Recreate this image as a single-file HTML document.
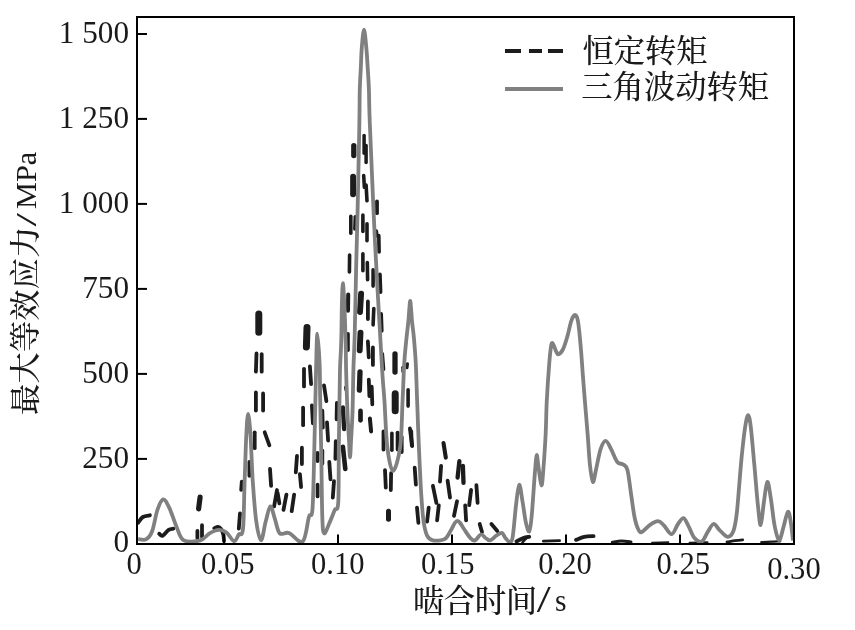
<!DOCTYPE html>
<html lang="zh"><head><meta charset="utf-8"><title>最大等效应力</title>
<style>html,body{margin:0;padding:0;background:#fff}svg{display:block}</style></head>
<body>
<svg width="855" height="630" viewBox="0 0 855 630">
<rect width="855" height="630" fill="#fff"/>
<g stroke="#1c1c1c" fill="none" stroke-linecap="round" stroke-linejoin="round">
<line x1="200.1" y1="497.2" x2="198.6" y2="508.8" stroke-width="5.2"/>
<line x1="197.4" y1="531.0" x2="197.4" y2="538.0" stroke-width="3.8"/>
<line x1="202.0" y1="525.2" x2="202.0" y2="536.8" stroke-width="3.8"/>
<line x1="240.0" y1="513.5" x2="238.8" y2="528.6" stroke-width="3.8"/>
<line x1="241.8" y1="481.7" x2="241.2" y2="489.8" stroke-width="3.8"/>
<line x1="249.4" y1="461.8" x2="249.4" y2="475.8" stroke-width="3.8"/>
<line x1="254.7" y1="432.3" x2="254.7" y2="448.2" stroke-width="3.8"/>
<line x1="255.9" y1="392.4" x2="255.9" y2="410.5" stroke-width="3.8"/>
<line x1="263.1" y1="393.5" x2="263.1" y2="410.5" stroke-width="3.8"/>
<line x1="256.5" y1="353.5" x2="255.9" y2="371.7" stroke-width="3.8"/>
<line x1="261.7" y1="354.1" x2="261.7" y2="371.7" stroke-width="3.8"/>
<line x1="258.8" y1="314.1" x2="258.8" y2="332.3" stroke-width="7.0"/>
<line x1="264.7" y1="432.3" x2="269.4" y2="445.3" stroke-width="3.8"/>
<line x1="270.0" y1="468.8" x2="271.1" y2="485.8" stroke-width="3.8"/>
<line x1="277.0" y1="490.0" x2="274.1" y2="506.4" stroke-width="3.8"/>
<line x1="277.6" y1="492.9" x2="279.4" y2="503.4" stroke-width="3.8"/>
<line x1="286.4" y1="494.7" x2="283.5" y2="509.9" stroke-width="3.8"/>
<line x1="294.1" y1="494.7" x2="291.7" y2="511.1" stroke-width="3.8"/>
<line x1="297.0" y1="455.9" x2="295.8" y2="472.3" stroke-width="3.8"/>
<line x1="299.9" y1="474.1" x2="301.1" y2="487.0" stroke-width="3.8"/>
<line x1="301.9" y1="447.7" x2="301.9" y2="464.1" stroke-width="3.8"/>
<line x1="303.1" y1="407.6" x2="303.1" y2="425.2" stroke-width="3.8"/>
<line x1="304.0" y1="368.8" x2="304.0" y2="386.4" stroke-width="3.8"/>
<line x1="309.9" y1="366.4" x2="311.1" y2="384.1" stroke-width="3.8"/>
<line x1="307.0" y1="327.6" x2="306.4" y2="347.0" stroke-width="7.0"/>
<line x1="311.9" y1="405.3" x2="312.9" y2="423.4" stroke-width="3.8"/>
<line x1="322.3" y1="410.6" x2="322.8" y2="427.6" stroke-width="3.8"/>
<line x1="327.0" y1="422.3" x2="328.1" y2="440.5" stroke-width="3.8"/>
<line x1="324.0" y1="385.3" x2="326.4" y2="401.1" stroke-width="3.8"/>
<line x1="317.6" y1="484.7" x2="317.6" y2="496.4" stroke-width="3.8"/>
<line x1="317.6" y1="453.0" x2="317.6" y2="461.1" stroke-width="3.8"/>
<line x1="322.3" y1="450.6" x2="322.3" y2="463.5" stroke-width="3.8"/>
<line x1="329.3" y1="461.8" x2="330.5" y2="479.3" stroke-width="3.8"/>
<line x1="334.0" y1="481.2" x2="332.8" y2="497.6" stroke-width="3.8"/>
<line x1="335.8" y1="441.2" x2="335.4" y2="458.8" stroke-width="3.8"/>
<line x1="336.9" y1="402.9" x2="336.6" y2="419.3" stroke-width="3.8"/>
<line x1="342.9" y1="407.4" x2="344.1" y2="429.1" stroke-width="4.3"/>
<line x1="342.9" y1="446.7" x2="345.3" y2="469.0" stroke-width="4.6"/>
<line x1="353.8" y1="145.6" x2="353.8" y2="155.5" stroke-width="5.3"/>
<line x1="353.1" y1="176.7" x2="353.1" y2="194.3" stroke-width="5.9"/>
<line x1="350.8" y1="216.2" x2="350.8" y2="233.2" stroke-width="3.6"/>
<line x1="355.2" y1="216.8" x2="354.8" y2="229.1" stroke-width="3.4"/>
<line x1="349.6" y1="255.0" x2="349.4" y2="272.0" stroke-width="3.6"/>
<line x1="348.2" y1="294.4" x2="348.0" y2="310.8" stroke-width="4.0"/>
<line x1="348.0" y1="333.8" x2="348.0" y2="350.3" stroke-width="3.6"/>
<line x1="345.8" y1="387.5" x2="346.3" y2="389.8" stroke-width="3.8"/>
<line x1="364.1" y1="135.6" x2="364.1" y2="153.2" stroke-width="3.5"/>
<line x1="366.1" y1="145.6" x2="366.1" y2="162.6" stroke-width="3.5"/>
<line x1="363.7" y1="175.6" x2="364.4" y2="187.3" stroke-width="3.6"/>
<line x1="366.1" y1="185.0" x2="367.0" y2="200.8" stroke-width="3.6"/>
<line x1="362.9" y1="215.0" x2="362.9" y2="231.4" stroke-width="3.6"/>
<line x1="367.0" y1="223.8" x2="367.0" y2="240.8" stroke-width="3.6"/>
<line x1="362.9" y1="253.8" x2="362.9" y2="270.8" stroke-width="3.6"/>
<line x1="367.3" y1="262.6" x2="367.6" y2="279.8" stroke-width="3.6"/>
<line x1="361.1" y1="293.8" x2="360.0" y2="312.0" stroke-width="5.9"/>
<line x1="367.9" y1="301.5" x2="367.9" y2="319.0" stroke-width="3.8"/>
<line x1="360.5" y1="332.6" x2="359.7" y2="350.3" stroke-width="5.9"/>
<line x1="367.9" y1="341.5" x2="368.8" y2="357.3" stroke-width="3.8"/>
<line x1="372.9" y1="347.4" x2="372.9" y2="364.9" stroke-width="3.8"/>
<line x1="360.0" y1="372.0" x2="359.4" y2="390.2" stroke-width="5.3"/>
<line x1="368.8" y1="379.7" x2="369.4" y2="396.1" stroke-width="3.8"/>
<line x1="371.7" y1="386.7" x2="372.3" y2="404.3" stroke-width="3.8"/>
<line x1="360.5" y1="410.9" x2="360.5" y2="420.3" stroke-width="4.7"/>
<line x1="369.9" y1="418.5" x2="371.1" y2="431.4" stroke-width="4.0"/>
<line x1="377.0" y1="201.5" x2="377.0" y2="213.2" stroke-width="3.8"/>
<line x1="376.4" y1="230.9" x2="377.0" y2="236.1" stroke-width="3.4"/>
<line x1="378.8" y1="235.6" x2="379.1" y2="252.0" stroke-width="3.6"/>
<line x1="373.1" y1="269.7" x2="373.1" y2="286.1" stroke-width="3.6"/>
<line x1="379.9" y1="274.4" x2="380.5" y2="292.0" stroke-width="3.8"/>
<line x1="373.8" y1="308.5" x2="373.1" y2="324.9" stroke-width="3.6"/>
<line x1="381.1" y1="313.8" x2="381.7" y2="330.8" stroke-width="3.8"/>
<line x1="382.3" y1="353.8" x2="383.5" y2="369.1" stroke-width="3.6"/>
<line x1="395.0" y1="353.8" x2="395.0" y2="372.0" stroke-width="5.3"/>
<line x1="395.2" y1="393.8" x2="395.2" y2="410.8" stroke-width="7.0"/>
<line x1="388.5" y1="511.2" x2="388.5" y2="519.3" stroke-width="5.0"/>
<line x1="407.5" y1="363.8" x2="407.0" y2="367.8" stroke-width="3.0"/>
<line x1="402.8" y1="367.3" x2="402.8" y2="371.4" stroke-width="3.0"/>
<line x1="408.1" y1="389.7" x2="408.1" y2="406.1" stroke-width="3.6"/>
<line x1="383.5" y1="431.5" x2="383.5" y2="449.6" stroke-width="3.8"/>
<line x1="391.9" y1="433.2" x2="391.9" y2="450.2" stroke-width="3.6"/>
<line x1="397.6" y1="432.6" x2="397.6" y2="449.6" stroke-width="3.8"/>
<line x1="401.7" y1="436.8" x2="401.7" y2="452.0" stroke-width="3.8"/>
<line x1="409.9" y1="428.5" x2="412.2" y2="446.1" stroke-width="3.8"/>
<line x1="385.0" y1="470.2" x2="385.8" y2="487.7" stroke-width="3.8"/>
<line x1="391.1" y1="473.2" x2="390.8" y2="490.0" stroke-width="3.8"/>
<line x1="414.7" y1="467.6" x2="415.9" y2="484.6" stroke-width="3.8"/>
<line x1="411.2" y1="431.2" x2="411.8" y2="445.3" stroke-width="3.8"/>
<line x1="417.0" y1="507.6" x2="418.4" y2="522.8" stroke-width="3.8"/>
<line x1="428.7" y1="507.6" x2="427.1" y2="521.6" stroke-width="3.8"/>
<line x1="432.9" y1="485.8" x2="436.4" y2="502.8" stroke-width="3.8"/>
<line x1="438.8" y1="505.3" x2="437.1" y2="520.4" stroke-width="3.8"/>
<line x1="441.1" y1="465.9" x2="440.0" y2="481.7" stroke-width="3.8"/>
<line x1="443.5" y1="443.0" x2="445.8" y2="457.6" stroke-width="4.1"/>
<line x1="447.6" y1="480.6" x2="450.0" y2="497.5" stroke-width="3.8"/>
<line x1="457.0" y1="501.3" x2="454.0" y2="515.8" stroke-width="3.8"/>
<line x1="459.4" y1="461.2" x2="457.6" y2="477.6" stroke-width="4.3"/>
<line x1="462.9" y1="465.9" x2="463.5" y2="482.8" stroke-width="4.3"/>
<line x1="465.2" y1="505.3" x2="466.1" y2="520.4" stroke-width="3.8"/>
<line x1="471.1" y1="490.0" x2="469.2" y2="505.2" stroke-width="3.8"/>
<line x1="476.4" y1="485.2" x2="477.6" y2="502.8" stroke-width="3.8"/>
<line x1="479.7" y1="524.0" x2="482.0" y2="532.1" stroke-width="3.8"/>
<line x1="491.4" y1="524.0" x2="497.3" y2="531.0" stroke-width="3.8"/>
<path d="M138.2 522.8C139.0 521.8 140.9 518.2 142.9 517.0C144.9 515.8 148.7 515.6 149.9 515.3" stroke-width="3.8"/>
<path d="M159.2 533.8C159.8 534.1 161.1 536.4 162.7 535.7C164.3 535.0 166.8 531.0 168.6 529.8C170.4 528.6 172.5 528.9 173.3 528.7" stroke-width="3.8"/>
<path d="M214.2 528.2C214.8 528.0 216.9 526.9 218.0 527.0C219.1 527.1 220.1 527.8 221.0 529.0C221.9 530.2 222.8 532.5 223.3 534.5C223.8 536.5 223.9 539.9 224.0 541.0" stroke-width="3.8"/>
<path d="M516.4 541.5C517.6 540.9 521.3 538.8 523.4 538.0C525.5 537.2 528.2 537.0 529.2 536.8" stroke-width="3.8"/>
<path d="M527.5 537.5C527.0 537.9 525.3 539.2 524.5 540.0C523.7 540.8 522.8 542.1 522.5 542.5" stroke-width="2.6"/>
<path d="M543.3 541.2C546.0 541.1 556.9 540.8 559.6 540.7" stroke-width="2.8"/>
<path d="M576.0 539.9C577.4 539.4 581.3 537.4 584.2 536.8C587.1 536.2 592.0 536.2 593.6 536.1" stroke-width="3.8"/>
<path d="M612.3 542.3C613.8 542.1 618.5 541.0 621.6 541.0C624.7 541.0 629.4 541.8 631.0 542.0" stroke-width="3.0"/>
<path d="M652.0 542.6C654.7 542.5 665.7 542.3 668.4 542.2" stroke-width="1.8"/>
<path d="M689.5 542.6C692.5 542.5 704.6 542.3 707.6 542.2" stroke-width="1.8"/>
<path d="M727.0 542.0C728.3 541.8 732.4 541.0 735.0 540.6C737.6 540.2 741.4 539.9 742.7 539.8" stroke-width="2.8"/>
<path d="M761.4 542.3C763.2 542.2 768.9 541.8 772.0 541.6C775.1 541.4 778.8 541.3 780.1 541.2" stroke-width="2.4"/>
</g>
<path d="M138.2 539.2C139.6 539.2 144.1 540.6 146.4 539.2C148.7 537.8 150.4 535.9 152.2 531.0C154.0 526.1 155.6 515.3 157.4 510.0C159.2 504.7 161.2 499.8 163.2 499.4C165.2 499.0 166.9 502.9 169.2 507.6C171.5 512.3 174.4 522.0 176.8 527.5C179.2 533.0 179.9 538.2 183.8 540.4C187.7 542.5 195.9 541.6 200.2 540.4C204.5 539.2 206.4 535.1 209.5 533.3C212.6 531.5 216.1 529.9 218.9 529.8C221.7 529.7 224.0 530.6 226.5 532.5C229.0 534.4 231.9 540.9 234.0 541.2C236.1 541.5 237.3 536.5 238.8 534.5C240.3 532.5 242.0 537.8 243.0 529.0C244.0 520.2 244.0 497.6 244.6 481.9C245.2 466.2 245.7 446.3 246.3 435.0C246.9 423.7 247.4 414.0 248.1 414.0C248.8 414.0 249.7 423.7 250.5 435.0C251.3 446.3 251.8 467.5 252.8 481.9C253.8 496.3 254.9 511.9 256.3 521.6C257.7 531.4 259.4 540.4 261.0 540.4C262.6 540.4 264.1 527.3 265.7 521.6C267.3 515.9 268.8 506.8 270.4 506.4C271.9 506.0 273.4 514.8 275.0 519.3C276.6 523.8 277.4 531.0 279.7 533.3C282.0 535.6 285.2 531.6 289.0 533.0C292.8 534.4 299.4 544.2 302.7 541.5C306.0 538.8 307.3 522.5 308.9 517.0C310.5 511.6 311.6 520.0 312.5 508.8C313.4 497.6 313.8 468.1 314.3 450.0C314.8 431.9 315.1 414.3 315.4 400.0C315.7 385.7 315.9 375.1 316.2 364.0C316.5 352.9 316.8 333.7 317.4 333.7C318.0 333.7 319.1 352.9 319.6 364.0C320.1 375.1 319.9 385.7 320.2 400.0C320.5 414.3 320.8 430.5 321.2 450.0C321.6 469.5 321.8 503.1 322.3 517.0C322.8 530.9 322.9 532.5 324.2 533.3C325.5 534.1 328.2 525.5 330.0 521.6C331.8 517.7 333.3 513.1 334.7 510.0C336.1 506.9 337.5 513.0 338.2 503.0C338.9 493.0 338.6 467.2 338.8 450.0C339.0 432.8 339.3 413.3 339.5 400.0C339.7 386.7 339.8 378.7 340.0 370.0C340.2 361.3 340.8 353.8 341.0 348.0C341.2 342.2 341.3 339.5 341.4 335.0C341.5 330.5 341.5 326.8 341.6 321.0C341.7 315.2 341.8 306.3 342.0 300.0C342.2 293.7 342.5 283.2 342.9 283.2C343.2 283.2 343.8 293.7 344.1 300.0C344.5 306.3 344.8 315.2 345.0 321.0C345.2 326.8 345.3 330.5 345.4 335.0C345.5 339.5 345.7 342.2 345.8 348.0C345.9 353.8 345.9 360.5 346.1 370.0C346.3 379.5 346.9 396.7 347.2 405.0C347.5 413.3 347.5 414.2 347.8 420.0C348.1 425.8 348.6 433.8 349.0 440.0C349.4 446.2 349.6 457.3 350.0 457.3C350.4 457.3 350.7 446.2 351.1 440.0C351.5 433.8 351.9 425.8 352.2 420.0C352.5 414.2 352.5 413.3 352.7 405.0C352.9 396.7 353.1 381.7 353.4 370.0C353.7 358.3 354.2 352.5 354.7 335.0C355.2 317.5 355.7 285.8 356.2 265.0C356.7 244.2 357.1 232.8 357.6 210.0C358.1 187.2 358.9 148.2 359.3 128.0C359.7 107.8 359.5 99.0 359.8 88.7C360.1 78.4 360.6 73.1 360.9 66.2C361.2 59.3 361.3 53.6 361.8 47.5C362.3 41.4 363.2 29.7 364.0 29.7C364.8 29.7 365.7 41.4 366.3 47.5C366.9 53.6 367.2 59.3 367.6 66.2C368.0 73.1 368.5 78.4 368.9 88.7C369.3 99.0 368.9 101.8 370.0 128.0C371.1 154.2 373.2 206.7 375.2 246.0C377.2 285.3 380.3 338.3 381.8 364.0C383.3 389.7 383.5 386.2 384.4 400.0C385.3 413.8 385.9 435.2 387.3 447.0C388.7 458.8 390.9 471.0 393.0 471.0C395.1 471.0 398.6 458.6 400.2 446.8C401.8 435.0 401.9 413.8 402.6 400.0C403.3 386.2 403.6 374.2 404.2 364.0C404.8 353.8 405.7 346.0 406.4 339.0C407.1 332.0 407.8 327.2 408.3 322.0C408.8 316.8 409.1 311.5 409.4 308.0C409.7 304.5 409.9 300.8 410.2 300.8C410.5 300.8 410.7 304.5 411.0 308.0C411.3 311.5 411.6 316.8 412.1 322.0C412.6 327.2 413.4 332.0 414.0 339.0C414.6 346.0 415.3 353.8 415.8 364.0C416.3 374.2 416.6 386.2 417.1 400.0C417.6 413.8 418.2 431.2 418.9 446.8C419.6 462.4 420.4 481.1 421.2 493.6C422.0 506.1 422.6 514.6 423.6 521.6C424.6 528.6 425.6 532.6 427.1 535.7C428.7 538.8 430.0 539.8 432.9 540.4C435.8 541.0 441.7 540.8 444.6 539.2C447.5 537.6 448.8 533.7 450.5 531.0C452.2 528.3 453.6 524.7 454.8 523.0C456.0 521.3 456.6 520.8 457.5 520.8C458.4 520.8 459.0 521.5 460.2 523.0C461.4 524.5 462.8 527.3 464.5 529.8C466.2 532.3 468.6 536.2 470.4 538.0C472.1 539.8 473.2 541.0 475.0 540.4C476.8 539.8 479.1 534.9 480.9 534.5C482.7 534.1 484.1 537.0 485.6 538.0C487.2 539.0 488.4 540.8 490.2 540.4C491.9 540.0 494.2 537.0 496.1 535.7C498.1 534.5 500.3 532.5 501.9 532.9C503.4 533.3 504.2 536.6 505.4 538.0C506.6 539.4 507.7 541.5 508.9 541.5C510.1 541.5 511.3 544.0 512.5 538.0C513.7 532.0 514.9 514.2 516.0 505.3C517.1 496.4 518.1 485.4 519.2 484.8C520.3 484.2 521.5 495.9 522.6 502.0C523.7 508.1 524.6 516.7 525.7 521.6C526.8 526.5 528.2 532.3 529.2 531.5C530.2 530.7 530.6 527.2 531.6 517.0C532.6 506.8 534.2 480.5 535.1 470.2C536.0 459.9 536.1 455.4 536.7 455.0C537.3 454.6 537.8 462.7 538.6 467.8C539.4 472.9 540.6 485.0 541.4 485.4C542.2 485.8 542.6 478.6 543.3 470.2C544.0 461.8 545.0 446.6 545.6 435.0C546.2 423.4 546.2 412.0 546.8 400.4C547.4 388.8 548.4 374.3 549.1 365.3C549.8 356.3 550.4 350.3 551.0 346.6C551.6 342.9 551.8 342.3 552.6 343.1C553.5 343.9 555.1 349.4 556.1 351.3C557.1 353.2 557.3 354.7 558.5 354.3C559.7 353.9 561.7 352.1 563.2 348.9C564.8 345.7 566.4 339.6 567.8 334.9C569.1 330.2 570.1 324.1 571.3 320.8C572.5 317.5 573.8 315.0 574.9 315.0C576.0 315.0 576.9 315.5 577.9 320.8C578.9 326.1 579.9 337.2 580.7 346.6C581.6 356.0 582.3 368.1 583.0 377.0C583.7 385.9 584.0 390.3 584.8 400.0C585.6 409.7 586.8 424.1 587.7 435.0C588.6 445.9 589.1 457.7 590.0 465.5C590.9 473.3 591.9 481.1 592.9 481.9C593.9 482.7 594.6 475.7 595.9 470.2C597.2 464.7 599.0 454.0 600.6 449.1C602.2 444.2 604.0 440.9 605.7 440.9C607.5 440.9 609.2 445.6 611.1 449.1C613.0 452.6 615.3 459.4 617.3 462.0C619.3 464.6 621.6 463.1 623.3 464.5C625.0 465.9 626.2 465.3 627.5 470.2C628.8 475.1 629.8 485.8 631.0 493.6C632.2 501.4 633.3 511.1 634.5 517.0C635.7 522.9 636.8 526.2 638.0 528.7C639.2 531.2 639.5 532.8 641.5 532.2C643.5 531.6 647.0 526.9 649.7 525.1C652.4 523.3 655.6 521.2 657.9 521.2C660.2 521.2 661.4 522.9 663.7 525.1C666.0 527.3 669.2 534.4 671.6 534.2C674.0 534.0 676.0 526.7 678.0 524.0C680.0 521.3 681.7 517.7 683.5 518.1C685.3 518.5 686.8 523.0 688.6 526.3C690.4 529.6 692.3 535.5 694.5 538.0C696.7 540.5 699.6 542.5 701.8 541.5C704.0 540.5 705.6 535.1 707.6 532.2C709.6 529.3 711.5 524.4 713.5 524.0C715.5 523.6 717.0 527.7 719.3 529.8C721.6 531.9 725.1 536.6 727.5 536.8C729.9 537.0 731.8 535.1 733.4 531.0C735.0 526.9 735.5 524.4 736.9 512.3C738.2 500.2 740.1 472.6 741.5 458.5C742.9 444.4 743.9 435.2 745.0 428.0C746.1 420.8 747.1 415.2 748.1 415.2C749.1 415.2 749.9 419.6 750.9 428.0C751.9 436.4 753.2 452.6 754.4 465.5C755.6 478.4 756.8 495.4 757.9 505.3C759.0 515.2 759.7 525.5 760.7 525.1C761.7 524.7 762.7 510.1 763.8 502.9C764.9 495.7 766.1 482.7 767.3 481.9C768.5 481.1 769.6 491.2 770.8 498.2C772.0 505.2 773.1 517.4 774.3 524.0C775.5 530.6 776.8 535.5 777.8 538.0C778.8 540.5 779.1 541.2 780.1 539.2C781.1 537.2 782.4 530.9 783.7 526.3C785.0 521.7 786.7 512.6 787.9 511.8C789.1 511.0 789.9 516.8 790.7 521.6C791.6 526.4 792.6 537.3 793.0 540.4" fill="none" stroke="#808080" stroke-width="3.8" stroke-linejoin="round"/>
<g stroke="#000" stroke-width="2" fill="none">
<path d="M137.0 17.0H794.0V543.9H137.0Z"/>
<path d="M137.0 34.0h10"/>
<path d="M137.0 118.9h10"/>
<path d="M137.0 203.9h10"/>
<path d="M137.0 288.9h10"/>
<path d="M137.0 373.9h10"/>
<path d="M137.0 458.9h10"/>
<path d="M224.1 543.9v-9.5"/>
<path d="M338.0 543.9v-9.5"/>
<path d="M452.0 543.9v-9.5"/>
<path d="M566.0 543.9v-9.5"/>
<path d="M680.0 543.9v-9.5"/>
</g>
<path d="M505 51H521M529 51H542M548 51H563" stroke="#1c1c1c" stroke-width="3.9" fill="none"/>
<path d="M505 89H563" stroke="#808080" stroke-width="3.9" fill="none"/>
<g font-family="'Liberation Serif', 'Noto Serif CJK SC', serif" font-size="32" fill="#1a1a1a">
<text x="58.8" y="43.2" textLength="70.2" lengthAdjust="spacingAndGlyphs">1 500</text>
<text x="58.8" y="128.1" textLength="70.2" lengthAdjust="spacingAndGlyphs">1 250</text>
<text x="58.8" y="213.1" textLength="70.2" lengthAdjust="spacingAndGlyphs">1 000</text>
<text x="82.2" y="298.1" textLength="46.8" lengthAdjust="spacingAndGlyphs">750</text>
<text x="82.2" y="383.1" textLength="46.8" lengthAdjust="spacingAndGlyphs">500</text>
<text x="82.2" y="468.1" textLength="46.8" lengthAdjust="spacingAndGlyphs">250</text>
<text x="113.4" y="552.3" textLength="15.6" lengthAdjust="spacingAndGlyphs">0</text>
<text x="126.6" y="573.8" textLength="15.3" lengthAdjust="spacingAndGlyphs">0</text>
<text x="201.0" y="573.8" textLength="53.5" lengthAdjust="spacingAndGlyphs">0.05</text>
<text x="311.0" y="573.8" textLength="53.5" lengthAdjust="spacingAndGlyphs">0.10</text>
<text x="421.0" y="573.8" textLength="53.5" lengthAdjust="spacingAndGlyphs">0.15</text>
<text x="538.3" y="573.8" textLength="53.5" lengthAdjust="spacingAndGlyphs">0.20</text>
<text x="656.5" y="574.1" textLength="53.5" lengthAdjust="spacingAndGlyphs">0.25</text>
<text x="767.2" y="579.2" textLength="53.5" lengthAdjust="spacingAndGlyphs">0.30</text>
<text x="412.7" y="611.5" font-size="31.5" font-weight="500" textLength="124.5" lengthAdjust="spacing">啮合时间</text>
<text x="536.8" y="611.5" font-size="37" textLength="14" lengthAdjust="spacingAndGlyphs">/</text>
<text x="555" y="611" font-size="31" textLength="11.5" lengthAdjust="spacingAndGlyphs">s</text>
<text x="582.4" y="62.3" font-size="31.3" font-weight="500" textLength="125.2" lengthAdjust="spacing">恒定转矩</text>
<text x="581.3" y="97.6" font-size="31.3" font-weight="500" textLength="187.8" lengthAdjust="spacing">三角波动转矩</text>
<g transform="translate(35.9 415) rotate(-90)">
<text x="0" y="0" font-size="31.2" font-weight="500" textLength="188.5" lengthAdjust="spacing">最大等效应力</text>
<text x="188.6" y="0" font-size="30" textLength="13.5" lengthAdjust="spacingAndGlyphs">/</text>
<text x="206" y="-0.2" font-size="30.3">MPa</text>
</g>
</g>
</svg>
</body></html>
